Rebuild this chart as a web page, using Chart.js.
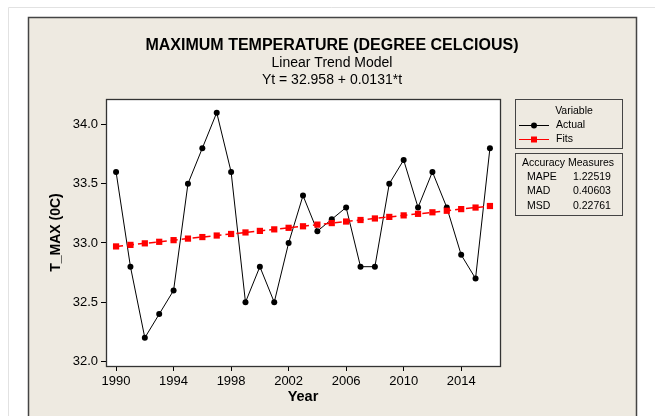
<!DOCTYPE html>
<html>
<head>
<meta charset="utf-8">
<script src="https://cdn.jsdelivr.net/npm/chart.js@4.4.1/dist/chart.umd.min.js"></script>
<style>
    body { margin: 0; background: #fff; }
    #wrap { width: 655px; height: 416px; position: relative; }
</style>
</head>
<body>
<div id="wrap"><canvas id="trendChart"></canvas></div>
<script>
const years = [
    1990, 1991, 1992, 1993, 1994, 1995, 1996, 1997, 1998, 1999,
    2000, 2001, 2002, 2003, 2004, 2005, 2006, 2007, 2008, 2009,
    2010, 2011, 2012, 2013, 2014, 2015, 2016,
];
const actualTemp = [
    33.6, 32.8, 32.2, 32.4, 32.6, 33.5, 33.8, 34.1, 33.6, 32.5,
    32.8, 32.5, 33.0, 33.4, 33.1, 33.2, 33.3, 32.8, 32.8, 33.5,
    33.7, 33.3, 33.6, 33.3, 32.9, 32.7, 33.8,
];
const fitsTemp = [
    32.971, 32.984, 32.997, 33.010, 33.024, 33.037, 33.050, 33.063, 33.076, 33.089,
    33.102, 33.115, 33.128, 33.141, 33.155, 33.168, 33.181, 33.194, 33.207, 33.220,
    33.233, 33.246, 33.259, 33.272, 33.286, 33.299, 33.312,
];
const xTickYears = [1990, 1994, 1998, 2002, 2006, 2010, 2014];
const yTickValues = [32.0, 32.5, 33.0, 33.5, 34.0];
const accuracyNames = ['MAPE', 'MAD', 'MSD'];
const accuracyValues = ['1.22519', '0.40603', '0.22761'];

const titleMain = 'MAXIMUM TEMPERATURE (DEGREE CELCIOUS)';
const titleSub = ['Linear Trend Model', 'Yt = 32.958 + 0.0131*t'];

const panelColor = '#eeeae1';
const fontName = '"Liberation Sans", Arial, sans-serif';

function toPoints(values) {
    return years.map((yr, i) => ({ x: yr, y: values[i] }));
}

// background, panel and the white plot area
const framePlugin = {
    id: 'frame',
    beforeDraw(chart) {
        const ctx = chart.ctx;
        const a = chart.chartArea;
        ctx.save();
        ctx.fillStyle = '#fff';
        ctx.fillRect(0, 0, chart.width, chart.height);
        ctx.strokeStyle = '#e2e2e2';
        ctx.lineWidth = 1;
        ctx.beginPath();
        ctx.moveTo(8.5, chart.height);
        ctx.lineTo(8.5, 7.5);
        ctx.lineTo(chart.width, 7.5);
        ctx.stroke();

        ctx.fillStyle = panelColor;
        ctx.fillRect(28, 17, 608, chart.height);
        ctx.strokeStyle = '#444';
        ctx.lineWidth = 1.5;
        ctx.beginPath();
        ctx.moveTo(28.5, chart.height + 2);
        ctx.lineTo(28.5, 17.5);
        ctx.lineTo(636.5, 17.5);
        ctx.lineTo(636.5, chart.height + 2);
        ctx.stroke();

        ctx.fillStyle = '#fff';
        ctx.fillRect(a.left, a.top, a.right - a.left, a.bottom - a.top);
        ctx.restore();
    },
    afterDraw(chart) {
        const ctx = chart.ctx;
        const a = chart.chartArea;
        ctx.save();
        ctx.strokeStyle = '#333';
        ctx.lineWidth = 1.3;
        ctx.strokeRect(a.left + 0.5, a.top + 0.5, a.right - a.left, a.bottom - a.top);

        // titles
        ctx.fillStyle = '#000';
        ctx.textAlign = 'center';
        ctx.textBaseline = 'middle';
        ctx.font = 'bold 16px ' + fontName;
        ctx.fillText(titleMain, 332, 46);
        ctx.font = '14px ' + fontName;
        ctx.fillText(titleSub[0], 332, 63);
        ctx.fillText(titleSub[1], 332, 80);

        // variable legend
        ctx.strokeStyle = '#444';
        ctx.lineWidth = 1;
        ctx.strokeRect(515.5, 99.5, 107, 49);
        ctx.strokeRect(515.5, 153.5, 107, 62);

        ctx.font = '10.5px ' + fontName;
        ctx.fillText('Variable', 574, 111);
        ctx.textAlign = 'left';
        ctx.fillText('Actual', 556, 125);
        ctx.fillText('Fits', 556, 139);

        ctx.strokeStyle = '#000';
        ctx.beginPath();
        ctx.moveTo(519, 125.5);
        ctx.lineTo(549, 125.5);
        ctx.stroke();
        ctx.fillStyle = '#000';
        ctx.beginPath();
        ctx.arc(534, 125.5, 3, 0, Math.PI * 2);
        ctx.fill();

        ctx.strokeStyle = '#ff0000';
        ctx.beginPath();
        ctx.moveTo(519, 139.5);
        ctx.lineTo(549, 139.5);
        ctx.stroke();
        ctx.fillStyle = '#ff0000';
        ctx.fillRect(531, 136.5, 6, 6);

        // accuracy measures
        ctx.fillStyle = '#000';
        ctx.textAlign = 'center';
        ctx.fillText('Accuracy Measures', 568, 163);
        ctx.textAlign = 'left';
        for (let i = 0; i < accuracyNames.length; i++) {
            ctx.fillText(accuracyNames[i], 527, 177 + i * 14.5);
            ctx.fillText(accuracyValues[i], 573, 177 + i * 14.5);
        }
        ctx.restore();
    },
};

const trendChart = new Chart(document.getElementById('trendChart').getContext('2d'), {
    type: 'line',
    data: {
        datasets: [
            {
                label: 'Actual',
                data: toPoints(actualTemp),
                borderColor: '#000',
                backgroundColor: '#000',
                borderWidth: 1,
                pointRadius: 3,
                pointBorderWidth: 0,
                pointBackgroundColor: '#000',
                order: 2,
            },
            {
                label: 'Fits',
                data: toPoints(fitsTemp),
                borderColor: '#ff0000',
                backgroundColor: '#ff0000',
                borderWidth: 1.5,
                borderDash: [7, 4],
                pointStyle: 'rect',
                pointRadius: 4.4,
                pointBorderWidth: 0,
                pointBackgroundColor: '#ff0000',
                order: 1,
            },
        ],
    },
    options: {
        responsive: true,
        maintainAspectRatio: false,
        animation: false,
        layout: { padding: { left: 28, right: 155, top: 99, bottom: 0 } },
        plugins: {
            legend: { display: false },
            tooltip: { enabled: false },
        },
        scales: {
            x: {
                type: 'linear',
                min: 1989.3,
                max: 2016.7,
                afterBuildTicks: (scale) => {
                    scale.ticks = xTickYears.map((v) => ({ value: v }));
                },
                afterFit: (scale) => {
                    scale.height = 50;
                },
                grid: { drawOnChartArea: false, tickLength: 5, tickColor: '#000' },
                border: { display: false },
                ticks: {
                    color: '#000',
                    padding: 3,
                    maxRotation: 0,
                    font: { family: fontName, size: 13 },
                    callback: (v) => String(v),
                },
                title: {
                    display: true,
                    text: 'Year',
                    color: '#000',
                    padding: { top: 0, bottom: 10 },
                    font: { family: fontName, size: 14.5, weight: 'bold' },
                },
            },
            y: {
                min: 31.962,
                max: 34.215,
                afterBuildTicks: (scale) => {
                    scale.ticks = yTickValues.map((v) => ({ value: v }));
                },
                afterFit: (scale) => {
                    scale.width = 78;
                },
                grid: { drawOnChartArea: false, tickLength: 5, tickColor: '#000' },
                border: { display: false },
                ticks: {
                    color: '#000',
                    padding: 3,
                    font: { family: fontName, size: 13 },
                    callback: (v) => Number(v).toFixed(1),
                },
                title: {
                    display: true,
                    text: 'T_MAX (0C)',
                    color: '#000',
                    padding: { top: 20, bottom: 0 },
                    font: { family: fontName, size: 14, weight: 'bold' },
                },
            },
        },
    },
    plugins: [framePlugin],
});
</script>
</body>
</html>
